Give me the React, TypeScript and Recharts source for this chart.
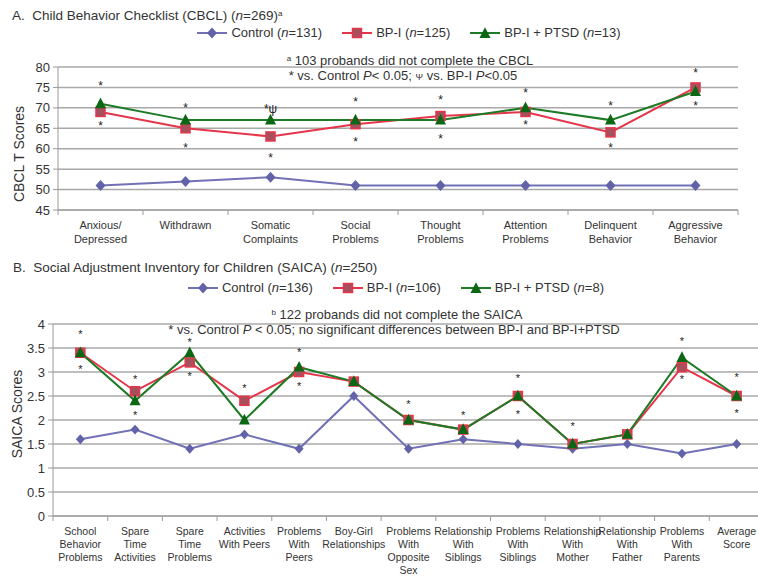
import React from "react";
import { LineChart, Line, XAxis, YAxis, CartesianGrid, LabelList } from "recharts";

const FONT = '"Liberation Sans", Arial, Helvetica, sans-serif';

// ---------------------------------------------------------------------------
// Panel A - Child Behavior Checklist (CBCL)
// ---------------------------------------------------------------------------

const cbclCategories = [
  "Anxious/\nDepressed",
  "Withdrawn",
  "Somatic\nComplaints",
  "Social\nProblems",
  "Thought\nProblems",
  "Attention\nProblems",
  "Delinquent\nBehavior",
  "Aggressive\nBehavior",
];
const cbclControl = [51, 52, 53, 51, 51, 51, 51, 51];
const cbclBP = [69, 65, 63, 66, 68, 69, 64, 75];
const cbclPTSD = [71, 67, 67, 67, 67, 70, 67, 74];
// where the significance marks sit (in score units)
const cbclStarHi = [76, 70.7, 70.3, 72.1, 72.7, 74.4, 71.1, 79.1];
const cbclStarHiText = ["*", "*", "*\u03c8", "*", "*", "*", "*", "*"];
const cbclStarLo = [66.2, 60.9, 58.5, 62.3, 63.1, 66.4, 60.9, 71.1];
const cbclTicks = [45, 50, 55, 60, 65, 70, 75, 80];
const cbclN = [131, 125, 13];

// ---------------------------------------------------------------------------
// Panel B - Social Adjustment Inventory for Children (SAICA)
// ---------------------------------------------------------------------------

const saicaCategories = [
  "School\nBehavior\nProblems",
  "Spare\nTime\nActivities",
  "Spare\nTime\nProblems",
  "Activities\nWith Peers",
  "Problems\nWith\nPeers",
  "Boy-Girl\nRelationships",
  "Problems\nWith\nOpposite\nSex",
  "Relationship\nWith\nSiblings",
  "Problems\nWith\nSiblings",
  "Relationship\nWith\nMother",
  "Relationship\nWith\nFather",
  "Problems\nWith\nParents",
  "Average\nScore",
];
const saicaControl = [1.6, 1.8, 1.4, 1.7, 1.4, 2.5, 1.4, 1.6, 1.5, 1.4, 1.5, 1.3, 1.5];
const saicaBP = [3.4, 2.6, 3.2, 2.4, 3.0, 2.8, 2.0, 1.8, 2.5, 1.5, 1.7, 3.1, 2.5];
const saicaPTSD = [3.4, 2.4, 3.4, 2.0, 3.1, 2.8, 2.0, 1.8, 2.5, 1.5, 1.7, 3.3, 2.5];
const saicaStarHi = [3.84, 2.89, 3.68, 2.71, 3.46, null, 2.38, 2.15, 2.92, 1.92, null, 3.7, 2.94];
const saicaStarLo = [3.1, 2.14, 2.97, null, 2.76, null, null, null, 2.17, null, null, 2.89, 2.2];
const saicaTicks = [0, 0.5, 1, 1.5, 2, 2.5, 3, 3.5, 4];
const saicaN = [136, 106, 8];

const seriesNames = ["Control", "BP-I", "BP-I + PTSD"];

const cbclData = cbclCategories.map((name, i) => ({
  name,
  control: cbclControl[i],
  bp: cbclBP[i],
  ptsd: cbclPTSD[i],
  hi: cbclStarHi[i],
  lo: cbclStarLo[i],
}));

const saicaData = saicaCategories.map((name, i) => ({
  name,
  control: saicaControl[i],
  bp: saicaBP[i],
  ptsd: saicaPTSD[i],
  hi: saicaStarHi[i],
  lo: saicaStarLo[i],
}));

const C = {
  control: "#7171b5",
  controlDot: "#6262a8",
  bp: "#e5354a",
  bpDot: "#a5505c",
  ptsd: "#1d7a25",
  ptsdDot: "#0b6714",
  grid: "#a8a8a8",
  axis: "#9a9a9a",
  text: "#333333",
};

// ---------------------------------------------------------------------------
// markers
// ---------------------------------------------------------------------------

const diamondPath = (cx: number, cy: number, s: number) =>
  `M${cx},${cy - s * 1.1}L${cx + s},${cy}L${cx},${cy + s * 1.1}L${cx - s},${cy}Z`;
const trianglePath = (cx: number, cy: number, s: number) =>
  `M${cx},${cy - s * 1.15}L${cx + s},${cy + s * 0.8}L${cx - s},${cy + s * 0.8}Z`;

const diamondDot = (s: number) => (p: any) =>
  p.cx == null ? <g key={p.index} /> : <path key={p.index} d={diamondPath(p.cx, p.cy, s)} fill={C.controlDot} />;
const squareDot = (s: number) => (p: any) =>
  p.cx == null ? (
    <g key={p.index} />
  ) : (
    <rect key={p.index} x={p.cx - s} y={p.cy - s} width={s * 2} height={s * 2} fill={C.bpDot} stroke={C.bp} strokeWidth={1.5} />
  );
const triangleDot = (s: number) => (p: any) =>
  p.cx == null ? <g key={p.index} /> : <path key={p.index} d={trianglePath(p.cx, p.cy, s)} fill={C.ptsdDot} />;

// ---------------------------------------------------------------------------
// axis tick with boundary tick marks (Excel style)
// ---------------------------------------------------------------------------

function CategoryTick(props: any) {
  const { x, y, payload, index, band, count, fontSize, lineGap } = props;
  const lines = String(payload.value).split("\n");
  return (
    <g>
      <line x1={x - band / 2} x2={x - band / 2} y1={y} y2={y + 5} stroke={C.axis} />
      {index === count - 1 && <line x1={x + band / 2} x2={x + band / 2} y1={y} y2={y + 5} stroke={C.axis} />}
      <text x={x} y={y + 15 + fontSize * 0.36} textAnchor="middle" fontSize={fontSize} fill={C.text} fontFamily={FONT}>
        {lines.map((l, i) => (
          <tspan key={i} x={x} dy={i === 0 ? 0 : lineGap}>
            {l}
          </tspan>
        ))}
      </text>
    </g>
  );
}

const starLabel = (marks: string[] | null, fontSize: number) => (p: any) => {
  const x = p.x ?? p.viewBox?.x;
  const y = p.y ?? p.viewBox?.y;
  if (p.value == null || y == null || isNaN(y)) return null;
  const t = marks ? marks[p.index] : "*";
  return (
    <text key={p.index} x={x} y={y + fontSize * 0.56} textAnchor="middle" fontSize={fontSize} fill="#222" fontFamily={FONT}>
      {t}
    </text>
  );
};

// ---------------------------------------------------------------------------
// legend
// ---------------------------------------------------------------------------

function LegendIcon({ kind }: { kind: number }) {
  const color = [C.control, C.bp, C.ptsd][kind];
  return (
    <svg width={30} height={14} style={{ display: "block" }}>
      <line x1={0} x2={30} y1={7} y2={7} stroke={color} strokeWidth={2} />
      {kind === 0 && <path d={diamondPath(15, 7, 5)} fill={C.controlDot} />}
      {kind === 1 && <rect x={10.5} y={2.5} width={9} height={9} fill={C.bpDot} stroke={C.bp} strokeWidth={1.5} />}
      {kind === 2 && <path d={trianglePath(15, 7.5, 5.5)} fill={C.ptsdDot} />}
    </svg>
  );
}

function LegendRow({ top, center, ns }: { top: number; center: number; ns: number[] }) {
  return (
    <div
      style={{
        position: "absolute",
        top,
        left: center - 300,
        width: 600,
        display: "flex",
        justifyContent: "center",
        gap: 20,
        fontSize: 13,
        lineHeight: "16px",
        color: C.text,
      }}
    >
      {seriesNames.map((s, i) => (
        <div key={s} style={{ display: "flex", alignItems: "center", gap: 4 }}>
          <LegendIcon kind={i} />
          <span>
            {s} (<i>n</i>={ns[i]})
          </span>
        </div>
      ))}
    </div>
  );
}

const abs = (top: number, left: number, extra: React.CSSProperties = {}): React.CSSProperties => ({
  position: "absolute",
  top,
  left,
  lineHeight: "16px",
  whiteSpace: "nowrap",
  color: C.text,
  ...extra,
});

const sup: React.CSSProperties = { fontSize: 8, verticalAlign: "4px" };

export default function App() {
  const bandA = 680 / cbclCategories.length;
  const bandB = 711 / saicaCategories.length;
  return (
    <div
      style={{
        position: "absolute",
        top: 0,
        left: 0,
        width: 758,
        height: 579,
        overflow: "hidden",
        background: "#fff",
        fontFamily: FONT,
      }}
    >
      {/* Panel A chart */}
      <div style={{ position: "absolute", top: 0, left: 0 }}>
        <LineChart width={758} height={250} data={cbclData} margin={{ top: 67, right: 20, bottom: 0, left: 0 }}>
          <CartesianGrid vertical={false} stroke={C.grid} strokeWidth={1.5} />
          <XAxis
            dataKey="name"
            interval={0}
            tickLine={false}
            tickSize={0}
            tickMargin={0}
            height={40}
            padding={{ left: bandA / 2, right: bandA / 2 }}
            axisLine={{ stroke: C.axis }}
            tick={<CategoryTick band={bandA} count={cbclCategories.length} fontSize={11} lineGap={14} />}
          />
          <YAxis
            domain={[45, 80]}
            ticks={cbclTicks}
            interval={0}
            width={58}
            tickSize={5}
            tickMargin={3}
            axisLine={{ stroke: C.axis }}
            tickLine={{ stroke: C.axis }}
            tick={{ fontSize: 13, fill: C.text, fontFamily: FONT }}
          />
          <Line dataKey="control" stroke={C.control} strokeWidth={2} dot={diamondDot(5)} isAnimationActive={false} />
          <Line dataKey="bp" stroke={C.bp} strokeWidth={2} dot={squareDot(4.5)} isAnimationActive={false} />
          <Line dataKey="ptsd" stroke={C.ptsd} strokeWidth={2} dot={triangleDot(5.5)} isAnimationActive={false} />
          <Line dataKey="hi" stroke="none" dot={false} activeDot={false} isAnimationActive={false}>
            <LabelList dataKey="hi" content={starLabel(cbclStarHiText, 12)} />
          </Line>
          <Line dataKey="lo" stroke="none" dot={false} activeDot={false} isAnimationActive={false}>
            <LabelList dataKey="lo" content={starLabel(null, 12)} />
          </Line>
        </LineChart>
      </div>

      {/* Panel B chart */}
      <div style={{ position: "absolute", top: 250, left: 0 }}>
        <LineChart width={770} height={326} data={saicaData} margin={{ top: 74, right: 6, bottom: 0, left: 0 }}>
          <CartesianGrid vertical={false} stroke={C.grid} strokeWidth={1.5} />
          <XAxis
            dataKey="name"
            interval={0}
            tickLine={false}
            tickSize={0}
            tickMargin={0}
            height={60}
            padding={{ left: bandB / 2, right: bandB / 2 }}
            axisLine={{ stroke: C.axis }}
            tick={<CategoryTick band={bandB} count={saicaCategories.length} fontSize={10.5} lineGap={13} />}
          />
          <YAxis
            domain={[0, 4]}
            ticks={saicaTicks}
            interval={0}
            width={53}
            tickSize={5}
            tickMargin={3}
            axisLine={{ stroke: C.axis }}
            tickLine={{ stroke: C.axis }}
            tick={{ fontSize: 13, fill: C.text, fontFamily: FONT }}
          />
          <Line dataKey="control" stroke={C.control} strokeWidth={2} dot={diamondDot(4.5)} isAnimationActive={false} />
          <Line dataKey="bp" stroke={C.bp} strokeWidth={2} dot={squareDot(4.5)} isAnimationActive={false} />
          <Line dataKey="ptsd" stroke={C.ptsd} strokeWidth={2} dot={triangleDot(5.5)} isAnimationActive={false} />
          <Line dataKey="hi" stroke="none" dot={false} activeDot={false} isAnimationActive={false}>
            <LabelList dataKey="hi" content={starLabel(null, 11)} />
          </Line>
          <Line dataKey="lo" stroke="none" dot={false} activeDot={false} isAnimationActive={false}>
            <LabelList dataKey="lo" content={starLabel(null, 11)} />
          </Line>
        </LineChart>
      </div>

      {/* Panel A texts */}
      <div style={abs(6, 12, { fontSize: 13.5 })}>
        A.&nbsp; Child Behavior Checklist (CBCL) (<i>n</i>=269)<span style={sup}>a</span>
      </div>
      <LegendRow top={25} center={409} ns={cbclN} />
      <div style={abs(51, 410, { fontSize: 13, transform: "translateX(-50%)" })}>
        <span style={sup}>a</span> 103 probands did not complete the CBCL
      </div>
      <div style={abs(68, 403, { fontSize: 13, transform: "translateX(-50%)" })}>
        * vs. Control <i>P</i>&lt; 0.05; <span style={{ fontSize: 9 }}>{"\u03a8"}</span> vs. BP-I <i>P</i>&lt;0.05
      </div>
      <div style={abs(154, 19, { fontSize: 14, transform: "translate(-50%, -50%) rotate(-90deg)" })}>CBCL T Scores</div>

      {/* Panel B texts */}
      <div style={abs(260, 13, { fontSize: 13.5 })}>
        B.&nbsp; Social Adjustment Inventory for Children (SAICA) (<i>n</i>=250)
      </div>
      <LegendRow top={280} center={396} ns={saicaN} />
      <div style={abs(305, 397, { fontSize: 13, transform: "translateX(-50%)" })}>
        <span style={sup}>b</span> 122 probands did not complete the SAICA
      </div>
      <div style={abs(322, 394, { fontSize: 13, transform: "translateX(-50%)" })}>
        * vs. Control <i>P</i> &lt; 0.05; no significant differences between BP-I and BP-I+PTSD
      </div>
      <div style={abs(414, 17, { fontSize: 14, transform: "translate(-50%, -50%) rotate(-90deg)" })}>SAICA Scores</div>
    </div>
  );
}
